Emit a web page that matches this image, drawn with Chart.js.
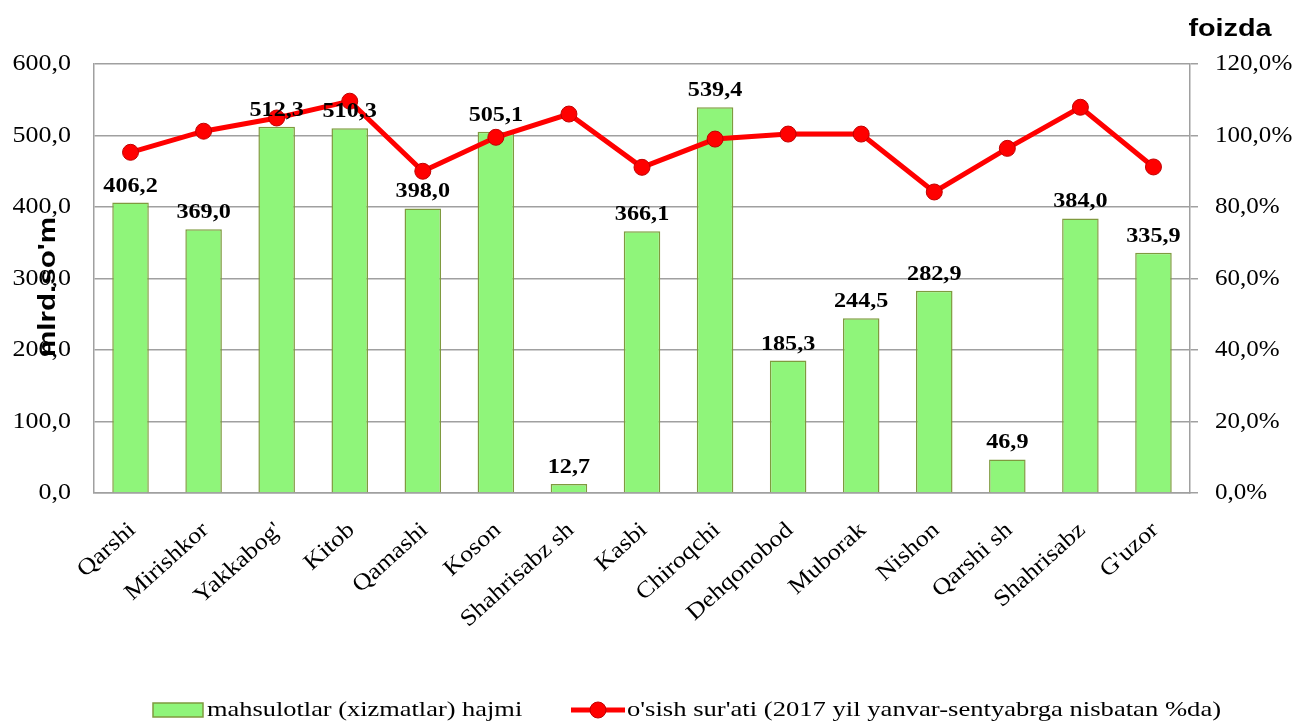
<!DOCTYPE html>
<html>
<head>
<meta charset="utf-8">
<script src="https://cdn.jsdelivr.net/npm/chart.js@4"></script>
<style>
  html, body { margin: 0; padding: 0; background: #fff; }
  #wrap { width: 1295px; height: 721px; position: relative; }
</style>
</head>
<body>
<div id="wrap"><canvas id="myChart" width="1295" height="721"></canvas></div>
<script>
const districts = [
  'Qarshi', 'Mirishkor', "Yakkabog'", 'Kitob', 'Qamashi', 'Koson',
  'Shahrisabz sh', 'Kasbi', 'Chiroqchi', 'Dehqonobod', 'Muborak',
  'Nishon', 'Qarshi sh', 'Shahrisabz', "G'uzor",
];
const volume = [406.2, 369.0, 512.3, 510.3, 398.0, 505.1, 12.7, 366.1, 539.4, 185.3, 244.5, 282.9, 46.9, 384.0, 335.9];
const growth = [95.3, 101.2, 104.9, 109.6, 90.0, 99.5, 106.0, 91.1, 99.0, 100.4, 100.4, 84.2, 96.4, 107.9, 91.2];
const volumeTicks = [0, 100, 200, 300, 400, 500, 600];
const growthTicks = [0, 20, 40, 60, 80, 100, 120];
const volumeName = 'mahsulotlar (xizmatlar) hajmi';
const growthName = "o'sish sur'ati (2017 yil yanvar-sentyabrga nisbatan %da)";

const serif = "'Liberation Serif', 'Times New Roman', serif";
const sans = "'Liberation Sans', Arial, sans-serif";
const barFill = '#8ff57a';
const barLine = '#7f9a3f';
const lineRed = '#ff0000';

const fmt = (v) => v.toFixed(1).replace('.', ',');

//texto ancho (el original tiene letras mas anchas)
function wideText(c, text, x, y, sx, align, baseline) {
  c.save();
  c.translate(x, y);
  c.scale(sx, 1);
  c.textAlign = align;
  c.textBaseline = baseline || 'middle';
  c.fillText(text, 0, 0);
  c.restore();
}

//etiquetas, ejes, titulos y leyenda
const extras = {
  id: 'extras',
  afterDatasetsDraw(chart) {
    const c = chart.ctx;
    const meta = chart.getDatasetMeta(1);
    c.save();
    c.fillStyle = '#000';
    c.font = 'bold 22px ' + serif;
    meta.data.forEach((bar, i) => {
      wideText(c, fmt(volume[i]), bar.x, bar.y - 11, 1.1, 'center', 'alphabetic');
    });
    c.restore();
  },
  afterDraw(chart) {
    const c = chart.ctx;
    const { x, y, y1 } = chart.scales;
    c.save();
    c.fillStyle = '#000';

    // tick labels
    c.font = '23px ' + serif;
    volumeTicks.forEach((v) => {
      wideText(c, fmt(v), 71, y.getPixelForValue(v), 1.13, 'right');
    });
    growthTicks.forEach((v) => {
      wideText(c, fmt(v) + '%', 1215, y1.getPixelForValue(v), 1.09, 'left');
    });
    districts.forEach((d, i) => {
      c.save();
      c.translate(x.getPixelForValue(i) + 2, 527);
      c.rotate(-42 * Math.PI / 180);
      c.scale(1.13, 1);
      c.textAlign = 'right';
      c.textBaseline = 'middle';
      c.fillText(d, 0, 0);
      c.restore();
    });

    // axis titles
    c.font = 'bold 24px ' + sans;
    c.save();
    c.translate(55, 287);
    c.rotate(-Math.PI / 2);
    c.scale(1.23, 1);
    c.textAlign = 'center';
    c.textBaseline = 'alphabetic';
    c.fillText("mlrd.so'm", 0, 0);
    c.restore();
    wideText(c, 'foizda', 1230, 36, 1.2, 'center', 'alphabetic');

    // legend
    const ly = 710;
    c.font = '22px ' + serif;
    c.fillStyle = barFill;
    c.strokeStyle = barLine;
    c.lineWidth = 1.5;
    c.fillRect(153, ly - 7, 50, 14);
    c.strokeRect(153, ly - 7, 50, 14);
    c.fillStyle = '#000';
    wideText(c, volumeName, 207, ly, 1.2, 'left');

    c.strokeStyle = lineRed;
    c.lineWidth = 5;
    c.beginPath();
    c.moveTo(571, ly);
    c.lineTo(625, ly);
    c.stroke();
    c.beginPath();
    c.arc(598, ly, 8, 0, Math.PI * 2);
    c.fillStyle = lineRed;
    c.fill();
    c.strokeStyle = '#c00000';
    c.lineWidth = 1;
    c.stroke();
    c.fillStyle = '#000';
    wideText(c, growthName, 627, ly, 1.21, 'left');
    c.restore();
  },
};

const ctx = document.getElementById('myChart');
// eslint-disable-next-line no-undef
const myChart = new Chart(ctx, {
  data: {
    labels: districts,
    datasets: [
      {
        type: 'line',
        label: growthName,
        data: growth,
        yAxisID: 'y1',
        borderColor: lineRed,
        borderWidth: 5,
        pointRadius: 8,
        pointBackgroundColor: lineRed,
        pointBorderColor: '#c00000',
        pointBorderWidth: 1,
        tension: 0,
        order: 0,
      },
      {
        type: 'bar',
        label: volumeName,
        data: volume,
        yAxisID: 'y',
        backgroundColor: barFill,
        borderColor: barLine,
        borderWidth: 1.5,
        barPercentage: 0.5,
        categoryPercentage: 1,
        order: 1,
      },
    ],
  },
  options: {
    responsive: false,
    animation: false,
    layout: { padding: { top: 64, left: 0, right: 0, bottom: 0 } },
    plugins: { legend: { display: false }, tooltip: { enabled: false } },
    scales: {
      x: {
        grid: { display: false },
        border: { color: '#a0a0a0', width: 1.5 },
        ticks: { display: false },
        afterFit(s) { s.height = 228; },
      },
      y: {
        position: 'left',
        min: 0,
        max: 600,
        afterBuildTicks(s) { s.ticks = volumeTicks.map((v) => ({ value: v })); },
        grid: { color: '#a0a0a0', lineWidth: 1.5, drawTicks: false },
        border: { color: '#a0a0a0', width: 1.5 },
        ticks: { display: false },
        afterFit(s) { s.width = 94; },
      },
      y1: {
        position: 'right',
        min: 0,
        max: 120,
        afterBuildTicks(s) { s.ticks = growthTicks.map((v) => ({ value: v })); },
        grid: { drawOnChartArea: false, color: '#a0a0a0', lineWidth: 1.5, tickLength: 8 },
        border: { color: '#a0a0a0', width: 1.5 },
        ticks: { display: false },
        afterFit(s) { s.width = 105; },
      },
    },
  },
  plugins: [extras],
});
</script>
</body>
</html>
